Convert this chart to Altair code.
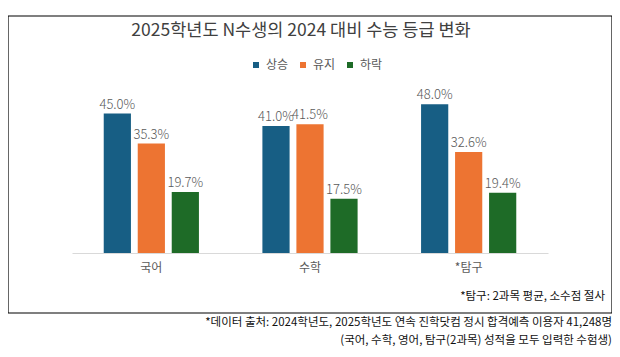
import altair as alt
import pandas as pd

categories = ["국어", "수학", "*탐구"]
series = ["상승", "유지", "하락"]
up = [45.0, 41.0, 48.0]
keep = [35.3, 41.5, 32.6]
down = [19.7, 17.5, 19.4]
colors = ["#175E84", "#ED7432", "#1E6B27"]

title_text = "2025학년도 N수생의 2024 대비 수능 등급 변화"
note_text = "*탐구: 2과목 평균, 소수점 절사"
source_lines = [
    "*데이터 출처: 2024학년도, 2025학년도 연속 진학닷컴 정시 합격예측 이용자 41,248명",
    "(국어, 수학, 영어, 탐구(2과목) 성적을 모두 입력한 수험생)",
]

rows = []
for i, c in enumerate(categories):
    for s, vals in zip(series, [up, keep, down]):
        rows.append({"과목": c, "구분": s, "값": vals[i], "라벨": f"{vals[i]:.1f}%"})
df = pd.DataFrame(rows)

FONT = "Noto Sans CJK KR"

x_enc = alt.X("과목:N", sort=categories, title=None,
              scale=alt.Scale(paddingInner=0.4, paddingOuter=0.2),
              axis=alt.Axis(labelAngle=0, ticks=False, domainColor="#D9D9D9",
                            labelFont=FONT, labelFontSize=12, labelColor="#595959",
                            labelPadding=9))
xo_enc = alt.XOffset("구분:N", sort=series, scale=alt.Scale(paddingInner=0.2))
y_enc = alt.Y("값:Q", scale=alt.Scale(domain=[0, 50]), axis=None)

bars = alt.Chart(df).mark_bar().encode(
    x=x_enc, xOffset=xo_enc, y=y_enc,
    color=alt.Color("구분:N", sort=series,
                    scale=alt.Scale(domain=series, range=colors),
                    legend=alt.Legend(title=None, orient="none", direction="horizontal",
                                      legendX=178, legendY=-39, symbolType="square",
                                      symbolSize=36, labelFont=FONT, labelFontSize=12,
                                      labelColor="#595959", columnPadding=8,
                                      symbolOffset=0, labelOffset=4)),
)

labels = alt.Chart(df).mark_text(dy=-9, font=FONT, fontSize=13, fontWeight=300,
                                 color="#595959").encode(
    x=alt.X("과목:N", sort=categories), xOffset=alt.XOffset("구분:N", sort=series),
    y="값:Q", text="라벨:N",
)

one = pd.DataFrame({"k": [0]})
frame = alt.Chart(one).mark_rect(fillOpacity=0, stroke="black", strokeWidth=1.2).encode(
    x=alt.value(-64), x2=alt.value(540), y=alt.value(-82), y2=alt.value(215)
)

title = alt.Chart(pd.DataFrame({"t": [title_text]})).mark_text(
    font=FONT, fontSize=17.5, fontWeight="normal", color="#404040", align="center",
    baseline="middle"
).encode(x=alt.value(229), y=alt.value(-67), text="t:N")

note = alt.Chart(pd.DataFrame({"t": [note_text]})).mark_text(
    font=FONT, fontSize=11.5, color="#111111", align="right", baseline="middle"
).encode(x=alt.value(533), y=alt.value(199), text="t:N")

src1 = alt.Chart(pd.DataFrame({"t": [source_lines[0]]})).mark_text(
    font=FONT, fontSize=11.5, color="#111111", align="right", baseline="middle"
).encode(x=alt.value(540), y=alt.value(225), text="t:N")

src2 = alt.Chart(pd.DataFrame({"t": [source_lines[1]]})).mark_text(
    font=FONT, fontSize=11.5, color="#111111", align="right", baseline="middle"
).encode(x=alt.value(540), y=alt.value(243), text="t:N")

chart = alt.layer(bars, labels, frame, title, note, src1, src2).properties(
    width=476, height=155,
    autosize=alt.AutoSizeParams(type="none"),
    padding={"left": 64, "top": 90, "right": 64, "bottom": 96},
    background="white",
).configure_view(stroke=None)

chart.save("out.html", embed_options={"renderer": "svg", "actions": False})
